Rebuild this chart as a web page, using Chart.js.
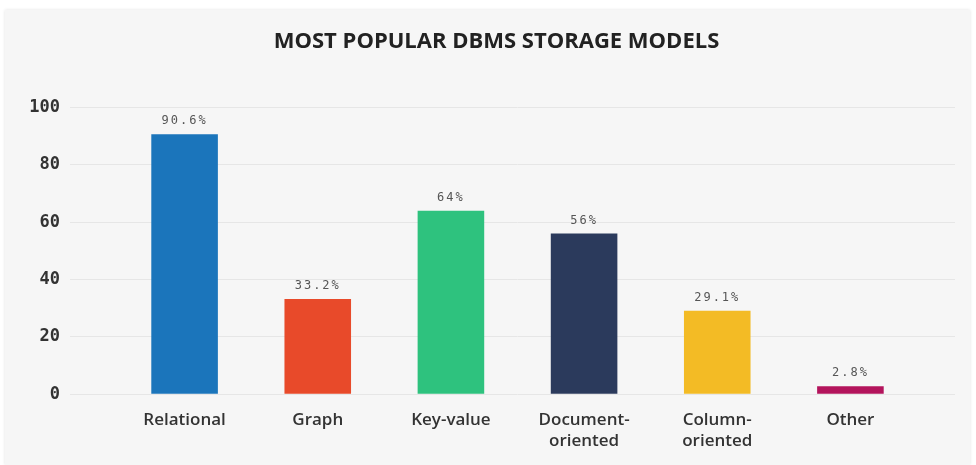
<!DOCTYPE html>
<html>
<head>
<meta charset="utf-8">
<script src="https://cdn.jsdelivr.net/npm/chart.js@4/dist/chart.umd.min.js"></script>
<style>
  body { margin: 0; background: #ffffff; }
  #panel {
    position: absolute; left: 5px; top: 10px; width: 965px; height: 455px;
    background: #f6f6f6; box-shadow: 0 0 3px rgba(0,0,0,0.12);
  }
</style>
</head>
<body>
<div id="panel"><canvas id="dbmsChart" width="965" height="455"></canvas></div>
<script>
const categories = ['Relational', 'Graph', 'Key-value', ['Document-', 'oriented'], ['Column-', 'oriented'], 'Other'];
const shares = [90.6, 33.2, 64, 56, 29.1, 2.8];
const shareLabels = ['90.6%', '33.2%', '64%', '56%', '29.1%', '2.8%'];
const barColors = ['#1b75bb', '#e84a2a', '#2ec27e', '#2b3a5c', '#f3bb25', '#b3145c'];
const yTicks = [0, 20, 40, 60, 80, 100];

// value labels above each bar
const valueLabels = {
  id: 'valueLabels',
  afterDatasetsDraw(chart) {
    const ctx = chart.ctx;
    const meta = chart.getDatasetMeta(0);
    ctx.save();
    ctx.font = '12px "DejaVu Sans Mono"';
    ctx.fillStyle = '#555555';
    ctx.textAlign = 'center';
    ctx.textBaseline = 'bottom';
    ctx.letterSpacing = '2px';
    meta.data.forEach((bar, i) => {
      ctx.fillText(shareLabels[i], bar.x, bar.y - 7);
    });
    ctx.restore();
  }
};

const ctx = document.getElementById('dbmsChart').getContext('2d');
new Chart(ctx, {
  type: 'bar',
  data: {
    labels: categories,
    datasets: [{
      data: shares,
      backgroundColor: barColors,
      borderWidth: 0,
      barPercentage: 0.5,
      categoryPercentage: 1.0
    }]
  },
  plugins: [valueLabels],
  options: {
    responsive: false,
    animation: false,
    layout: { padding: { left: 18, right: 0, top: 0, bottom: 6 } },
    plugins: {
      legend: { display: false },
      tooltip: { enabled: false },
      title: {
        display: true,
        text: 'MOST POPULAR DBMS STORAGE MODELS',
        color: '#222222',
        font: { family: '"Open Sans", sans-serif', size: 22, weight: 'bold', lineHeight: 1.2 },
        padding: { top: 19, bottom: 52 }
      }
    },
    scales: {
      x: {
        grid: { display: false },
        border: { display: false },
        ticks: {
          color: '#333333',
          padding: 8,
          maxRotation: 0,
          font: { family: '"Open Sans", sans-serif', size: 17, weight: '600', lineHeight: 1.2 }
        }
      },
      y: {
        min: 0,
        max: 100,
        afterFit(scale) { scale.width = 95; },
        afterBuildTicks(scale) { scale.ticks = yTicks.map(v => ({ value: v })); },
        grid: { color: '#e6e6e6', lineWidth: 1, tickLength: 48, tickColor: '#e6e6e6' },
        border: { display: false },
        ticks: {
          color: '#333333',
          padding: 10,
          font: { family: '"DejaVu Sans Mono", monospace', size: 17, weight: 'bold' }
        }
      },
      y2: {
        position: 'right',
        min: 0,
        max: 100,
        afterFit(scale) { scale.width = 53; },
        afterBuildTicks(scale) { scale.ticks = yTicks.map(v => ({ value: v })); },
        grid: { drawOnChartArea: false, color: '#e6e6e6', tickLength: 38, tickColor: '#e6e6e6' },
        border: { display: false },
        ticks: { display: false }
      }
    }
  }
});
</script>
</body>
</html>
